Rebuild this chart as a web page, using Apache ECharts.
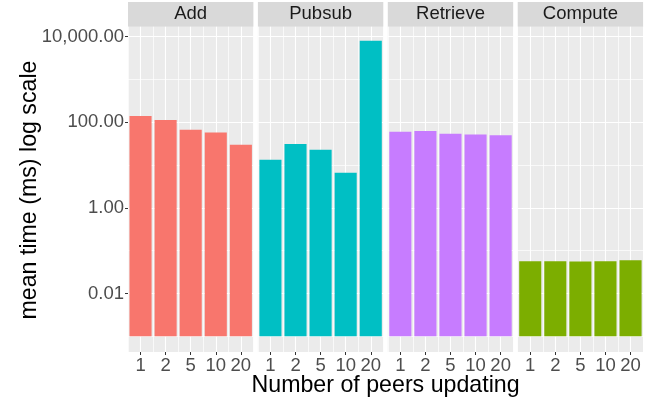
<!DOCTYPE html>
<html><head><meta charset="utf-8">
<script src="https://cdn.jsdelivr.net/npm/echarts@6/dist/echarts.min.js"></script>
<style>html,body{margin:0;padding:0;background:#fff}#c{width:654px;height:402px}</style>
</head><body><div id="c"></div>
<script>
// ---- data ----
const categories = ['1', '2', '5', '10', '20'];
const panels = ['Add', 'Pubsub', 'Retrieve', 'Compute'];
const addValues = [140, 113, 67, 58, 30];
const pubsubValues = [13.4, 31, 22.9, 6.6, 8070];
const retrieveValues = [60, 63, 54, 52, 50];
const computeValues = [0.057, 0.057, 0.0557, 0.057, 0.06];
const yTickValues = [-2, 0, 2, 4];           // log10 positions of labelled ticks
const yTickLabels = ['0.01', '1.00', '100.00', '10,000.00'];
const barBaseLog = -3; // bars drawn from 0.001
const xTitle = 'Number of peers updating';
const yTitle = 'mean time (ms) log scale';

// ---- styling ----
const colors = ['#F8766D', '#00BFC4', '#C77CFF', '#7CAE00'];
const FONT = 'Liberation Sans, Arial, sans-serif';
const TXT = 18.5, TITLE = 23.2;
const panelLeft0 = 128, panelW = 125.4, panelGap = 4.5, panelTop = 26.7, panelH = 325.3;
const yMin = -3.367, yMax = 4.234;
const seriesValues = [addValues, pubsubValues, retrieveValues, computeValues];

function yLabel(v) {
  const k = yTickValues.findIndex(t => Math.abs(t - v) < 1e-6);
  return k >= 0 ? yTickLabels[k] : '';
}

const grids = [], xAxes = [], yAxes = [], series = [], graphics = [];
panels.forEach((name, i) => {
  const left = panelLeft0 + i * (panelW + panelGap);
  grids.push({ left: left, top: panelTop, width: panelW, height: panelH,
    show: true, backgroundColor: '#ebebeb', borderWidth: 0, containLabel: false });
  // category axis for bars
  xAxes.push({ type: 'category', gridIndex: i, data: categories, boundaryGap: true, position: 'bottom',
    axisLine: { show: false, onZero: false },
    axisTick: { show: true, alignWithLabel: true, length: 3, lineStyle: { color: '#333333', width: 1 } },
    axisLabel: { show: true, color: '#4d4d4d', fontSize: TXT, fontFamily: FONT, margin: 4, interval: 0 },
    splitLine: { show: false } });
  // helper axis for vertical grid lines (centres = minor, boundaries = major)
  xAxes.push({ type: 'value', gridIndex: i, min: 0, max: 10, interval: 2, position: 'bottom',
    axisLine: { show: false, onZero: false }, axisTick: { show: false }, axisLabel: { show: false },
    splitLine: { show: true, lineStyle: { color: '#ffffff', width: 0.7 } },
    minorTick: { show: false, splitNumber: 2 },
    minorSplitLine: { show: true, lineStyle: { color: '#ffffff', width: 1.1 } } });
  yAxes.push({ type: 'value', gridIndex: i, min: yMin, max: yMax, minInterval: 2, maxInterval: 2,
    axisLine: { show: false, onZero: false },
    axisTick: { show: i === 0, length: 3, customValues: yTickValues, lineStyle: { color: '#333333', width: 1 } },
    axisLabel: { show: i === 0, color: '#4d4d4d', fontSize: TXT, fontFamily: FONT, margin: 4,
      customValues: yTickValues, formatter: yLabel },
    splitLine: { show: true, lineStyle: { color: '#ffffff', width: 1.1 } },
    minorTick: { show: false, splitNumber: 2 },
    minorSplitLine: { show: true, lineStyle: { color: '#ffffff', width: 0.7 } } });
  const stackId = 'panel' + i;
  series.push({ type: 'bar', xAxisIndex: 2 * i, yAxisIndex: i, stack: stackId, stackStrategy: 'all',
    silent: true, barCategoryGap: '12%', itemStyle: { color: 'rgba(0,0,0,0)' },
    data: categories.map(() => barBaseLog) });
  series.push({ type: 'bar', xAxisIndex: 2 * i, yAxisIndex: i, stack: stackId, stackStrategy: 'all',
    barCategoryGap: '12%', itemStyle: { color: colors[i] },
    data: seriesValues[i].map(v => Math.log10(v) - barBaseLog) });
  // facet strip
  graphics.push({ type: 'rect', shape: { x: left, y: 2, width: panelW, height: panelTop - 2 },
    style: { fill: '#d9d9d9' }, silent: true });
  graphics.push({ type: 'text', x: left + panelW / 2, y: 2 + (panelTop - 2) / 2,
    style: { text: name, fill: '#1a1a1a', fontSize: TXT, fontFamily: FONT, align: 'center', verticalAlign: 'middle' } });
});
const panelsRight = panelLeft0 + 4 * panelW + 3 * panelGap;
graphics.push({ type: 'text', x: (panelLeft0 + panelsRight) / 2, y: 385.3,
  style: { text: xTitle, fill: '#000000', fontSize: TITLE, fontFamily: FONT, align: 'center', verticalAlign: 'middle' } });
graphics.push({ type: 'text', x: 29.3, y: 190, rotation: Math.PI / 2,
  style: { text: yTitle, fill: '#000000', fontSize: TITLE, fontFamily: FONT, align: 'center', verticalAlign: 'middle' } });

const chart = echarts.init(document.getElementById('c'), null, { renderer: 'canvas' });
chart.setOption({
  animation: false,
  backgroundColor: '#ffffff',
  textStyle: { fontFamily: FONT },
  grid: grids, xAxis: xAxes, yAxis: yAxes, series: series,
  graphic: graphics
});
</script></body></html>
